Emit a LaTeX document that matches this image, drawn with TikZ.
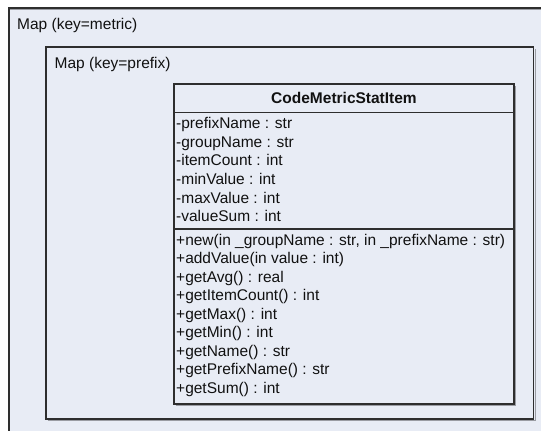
\documentclass[tikz,border=0pt]{standalone}
\usepackage{fontspec}
\setmainfont{Liberation Sans}
\usepackage{xcolor}
\definecolor{mapfill}{HTML}{E8ECF5}
\definecolor{frameline}{HTML}{2E2E2E}
\definecolor{frameshade}{HTML}{9A9CA3}
\definecolor{umltext}{HTML}{111111}

\begin{document}
\begin{tikzpicture}[x=1pt, y=-1pt,
    frame/.style={draw=frameline, line width=1.4pt},
    shade/.style={draw=frameshade, line width=1pt},
    maplabel/.style={anchor=base west, inner sep=0pt, text=umltext, font=\fontsize{15.5}{18}\selectfont},
    member/.style={anchor=base west, inner sep=0pt, text=umltext, font=\fontsize{15.5}{18}\selectfont}]

  % Canvas (the outer frame runs off the right and bottom edges)
  \useasboundingbox (0, 0) rectangle (541, 431);
  \clip (0, 0) rectangle (541, 431);
  \fill[white] (0, 0) rectangle (541, 431);

  % Outer map (key=metric)
  \fill[mapfill] (9, 8) rectangle (560, 450);
  \draw[shade] (10, 9.5) -- (560, 9.5);
  \draw[frame] (9, 450) -- (9, 8) -- (560, 8);
  \node[maplabel] (metricmap) at (17, 29) {Map (key=metric)};

  % Inner map (key=prefix)
  \draw[shade] (47.5, 420.5) -- (535, 420.5) -- (535, 48.5);
  \draw[frame] (46, 47) rectangle (533.5, 419);
  \node[maplabel] (prefixmap) at (54.5, 68.5) {Map (key=prefix)};

  % Class box
  \draw[shade] (175.5, 405.5) -- (515.5, 405.5) -- (515.5, 85.5);
  \draw[frame] (174, 84) rectangle (514, 404);
  \draw[frame] (174, 112.5) -- (514, 112.5);
  \draw[frame] (174, 229) -- (514, 229);
  \node[anchor=base, inner sep=0pt, text=umltext, font=\fontsize{15.5}{18}\selectfont\bfseries]
    (classname) at (344, 103) {CodeMetricStatItem};

  % Attributes
  \foreach \attr [count=\i] in {-prefixName : str, -groupName : str, -itemCount : int,
      -minValue : int, -maxValue : int, -valueSum : int} {
    \node[member] (attr\i) at (176, 128.5 + 18.65*\i - 18.65) {\attr};
  }

  % Operations
  \foreach \op [count=\i] in {{+new(in \_groupName : str, in \_prefixName : str)},
      +addValue(in value : int), +getAvg() : real, +getItemCount() : int,
      +getMax() : int, +getMin() : int, +getName() : str,
      +getPrefixName() : str, +getSum() : int} {
    \node[member] (op\i) at (176, 245 + 18.55*\i - 18.55) {\op};
  }

\end{tikzpicture}
\end{document}
